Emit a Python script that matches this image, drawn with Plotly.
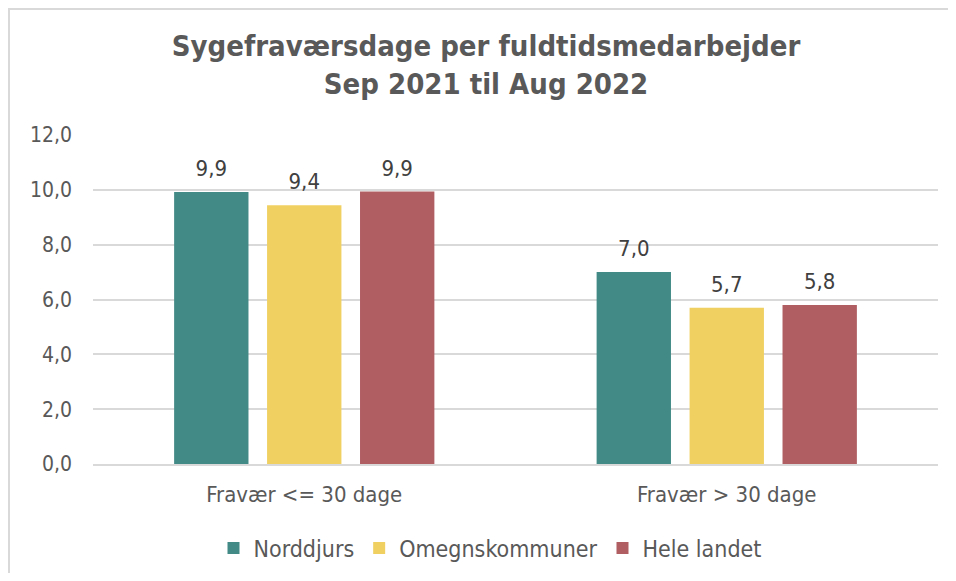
import plotly.graph_objects as go

categories = ["Fravær <= 30 dage", "Fravær > 30 dage"]
series_names = ["Norddjurs", "Omegnskommuner", "Hele landet"]
norddjurs = [9.92, 7.0]
omegn = [9.44, 5.7]
hele = [9.94, 5.8]
colors = ["#428A86", "#F0D061", "#B05E62"]
y_ticks = [0, 2, 4, 6, 8, 10, 12]
y_tick_labels = ["0,0", "2,0", "4,0", "6,0", "8,0", "10,0", "12,0"]

FONT = "DejaVu Sans Condensed, sans-serif"

W, H = 940, 565
L, R, T, B = 85, 10, 127, 109
PW, PH = W - L - R, H - T - B

fig = go.Figure()
for i, (name, vals, col) in enumerate(zip(series_names, [norddjurs, omegn, hele], colors)):
    fig.add_trace(go.Bar(
        x=categories, y=vals, name=name, marker=dict(color=col, line=dict(width=0)),
        offsetgroup=str(i),
    ))
for i, vals in enumerate([norddjurs, omegn, hele]):
    fig.add_trace(go.Scatter(
        x=categories, y=vals, mode="markers+text", showlegend=False,
        marker=dict(size=15, opacity=0), offsetgroup=str(i),
        texttemplate="%{y:.1f}", textposition="top center",
        textfont=dict(size=22, color="#404040", family=FONT),
        cliponaxis=False, hoverinfo="skip",
    ))

fig.update_layout(
    width=W, height=H,
    separators=",.",
    paper_bgcolor="white", plot_bgcolor="white",
    margin=dict(l=L, r=R, t=T, b=B, autoexpand=False),
    barmode="group", bargap=0.34, bargroupgap=0.2,
    scattermode="group", scattergap=0.34,
    title=dict(
        text="<b>Sygefraværsdage per fuldtidsmedarbejder<br>Sep 2021 til Aug 2022</b>",
        x=(486 - 8) / W, xanchor="center", y=0.915, yanchor="top",
        font=dict(size=29, color="#595959", family=FONT),
    ),
    font=dict(family=FONT, color="#595959"),
    legend=dict(orientation="h", x=(490 - 8) / W, xanchor="center", xref="container",
                y=-84 / PH, yanchor="middle",
                font=dict(size=23, color="#595959", family=FONT),
                itemwidth=30, traceorder="normal"),
    xaxis=dict(tickfont=dict(size=22, color="#595959", family=FONT),
               showline=True, linecolor="#D9D9D9", linewidth=1.5, ticks="",
               showgrid=False, ticklabelstandoff=10),
    yaxis=dict(range=[0, 12], tickvals=y_ticks, ticktext=y_tick_labels,
               tickfont=dict(size=21, color="#595959", family=FONT),
               showgrid=True, gridcolor="#D9D9D9", gridwidth=1.5, zeroline=False,
               showline=False, ticks="", ticklabelstandoff=20),
    shapes=[dict(type="rect", xref="paper", yref="paper",
                 x0=(1 - L) / PW, x1=1.2, y0=-0.6, y1=1 + (T - 1) / PH,
                 line=dict(color="#D9D9D9", width=2), fillcolor="rgba(0,0,0,0)", layer="below")],
)

fig.write_html("out.html")
